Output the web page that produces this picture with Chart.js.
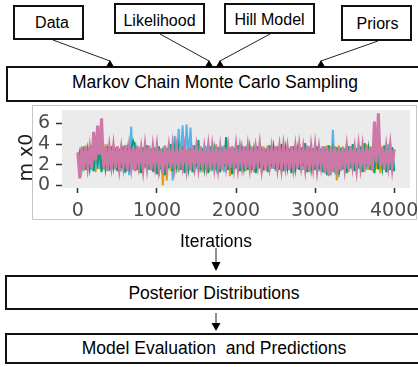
<!DOCTYPE html>
<html><head><meta charset="utf-8">
<script src="https://cdn.jsdelivr.net/npm/chart.js@4.4.1/dist/chart.umd.min.js"></script>
<style>
html,body{margin:0;padding:0;width:418px;height:367px;overflow:hidden;background:#fff;}
body{position:relative;font-family:"Liberation Sans",Arial,sans-serif;color:#000;}
.box{position:absolute;border:2px solid #111;box-sizing:border-box;background:#fff;}
.t{position:absolute;line-height:1;white-space:nowrap;text-align:center;width:300px;}
#plotFrame{position:absolute;left:32px;top:105px;width:385px;height:115px;border:1px solid #c6c6c6;box-sizing:border-box;}
#chartWrap{position:absolute;left:0;top:100px;width:418px;height:150px;}
svg{position:absolute;left:0;top:0;}
</style></head>
<body>
<div class="box" style="left:13px;top:5px;width:71px;height:35px;"></div>
<div class="box" style="left:114px;top:3px;width:91px;height:31px;"></div>
<div class="box" style="left:224px;top:3px;width:91px;height:31px;"></div>
<div class="box" style="left:341px;top:5px;width:71px;height:36px;"></div>
<div class="box" style="left:6px;top:66px;width:430px;height:36px;"></div>
<div class="box" style="left:5px;top:275px;width:430px;height:35px;"></div>
<div class="box" style="left:5px;top:333px;width:430px;height:31px;"></div>

<div class="t" style="left:-98px;top:14.8px;font-size:16px;">Data</div>
<div class="t" style="left:9.5px;top:13.2px;font-size:16px;">Likelihood</div>
<div class="t" style="left:119.5px;top:11.5px;font-size:16px;">Hill Model</div>
<div class="t" style="left:227.5px;top:15.5px;font-size:16px;">Priors</div>
<div class="t" style="left:65px;top:73.7px;font-size:17.5px;">Markov Chain&nbsp;Monte Carlo Sampling</div>
<div class="t" style="left:64px;top:285.2px;font-size:17.5px;">Posterior Distributions</div>
<div class="t" style="left:64px;top:339.7px;font-size:17.5px;">Model Evaluation&nbsp; and Predictions</div>

<svg width="418" height="367" viewBox="0 0 418 367">
 <g stroke="#222" stroke-width="1" fill="none">
  <line x1="53" y1="40" x2="110" y2="61"/>
  <line x1="160" y1="34" x2="209" y2="61"/>
  <line x1="270" y1="34" x2="220" y2="61"/>
  <line x1="378" y1="41" x2="321" y2="61"/>
  <line x1="216" y1="248" x2="216" y2="263"/>
  <line x1="216" y1="313" x2="216" y2="324"/>
 </g>
 <g fill="#000">
  <polygon points="106,67 114,67 110,60"/>
  <polygon points="205,67 213,67 209,60"/>
  <polygon points="216,67 224,67 220,60"/>
  <polygon points="317,67 325,67 321,60"/>
  <polygon points="211.5,262 220.5,262 216,271"/>
  <polygon points="211.5,323 220.5,323 216,331"/>
 </g>
</svg>

<div id="plotFrame"></div>
<div id="chartWrap"><canvas id="c" width="418" height="150"></canvas></div>

<script>
const iterStep = 25;
const xTicks = [0, 1000, 2000, 3000, 4000];
const yTicks = [0, 2, 4, 6];
const xTitle = 'Iterations';
const yTitle = 'm x0';

const chainPink = [
 3.2,0.7,3.6,1.6,3.7,1.9,3.5,1.7,5.2,2.4,5.8,3.0,6.5,1.8,3.8,1.5,3.6,2.0,3.7,1.7,
 3.8,1.8,3.5,2.0,3.9,1.6,3.6,1.9,3.7,1.4,3.8,2.1,3.5,1.7,3.7,1.9,3.8,1.5,3.6,2.0,
 3.7,1.8,3.5,1.2,3.8,2.0,3.6,1.7,3.7,1.9,3.5,1.6,3.8,2.1,3.6,1.8,3.7,1.5,3.9,2.0,
 3.6,1.9,3.8,1.7,3.5,2.0,3.7,1.6,3.6,1.9,3.8,1.8,3.5,1.5,3.7,2.0,3.6,1.7,3.8,1.9,
 3.7,1.8,3.5,2.0,3.8,1.7,3.6,1.9,3.7,1.6,3.5,2.1,3.8,1.8,3.6,1.5,3.7,2.0,3.5,1.7,
 3.8,1.9,3.6,1.8,3.7,2.0,3.5,1.6,3.8,1.9,3.6,1.7,3.7,2.0,3.5,1.8,3.8,1.5,3.6,1.9,
 3.7,1.7,3.5,2.0,3.8,1.2,3.7,1.0,3.6,1.3,3.8,1.1,3.5,1.5,3.7,1.8,3.6,1.6,3.8,2.0,
 3.5,1.7,3.7,1.9,3.6,1.6,3.8,1.8,3.7,1.5,6.2,2.2,7.0,1.9,3.7,1.6,3.6,2.0,3.8,1.8,
 3.5
];
const chainGreen = [
 2.6,
 3.2,2.0,3.7,1.5,3.4,1.8,3.9,1.4,3.6,2.2,3.5,1.3,3.7,1.7,3.3,1.5,3.8,1.9,3.6,1.4,
 3.5,1.7,3.8,1.3,3.4,1.9,3.6,4.3,3.7,1.5,3.4,1.2,3.7,1.8,3.9,1.6,3.5,1.4,3.6,1.1,
 3.8,1.6,3.5,1.0,3.6,1.7,4.0,1.4,3.5,1.9,3.6,1.5,3.8,1.2,3.4,1.7,3.6,1.3,3.9,1.8,
 4.4,1.5,3.6,1.7,3.4,1.2,3.8,1.6,3.5,1.9,3.7,1.3,3.6,1.8,4.7,1.5,3.5,1.1,3.6,1.7,
 3.9,1.4,3.5,1.8,3.7,1.5,3.6,1.9,3.4,1.2,3.8,1.7,3.6,1.5,3.5,1.3,3.9,1.8,3.6,1.6,
 3.7,1.5,4.0,1.4,3.5,1.8,3.6,1.2,3.8,1.7,3.4,1.5,3.7,1.9,4.1,1.3,3.5,1.7,3.6,1.5,
 3.8,1.6,3.5,1.3,3.6,1.0,3.9,1.5,3.4,1.8,3.7,1.1,3.6,1.6,3.5,1.2,3.8,1.7,4.0,1.4,
 3.6,1.7,3.8,1.3,4.1,1.8,3.5,1.5,3.7,1.2,4.2,1.6,3.5,1.8,3.9,1.3,3.6,1.5,3.7,1.4
];
const chainBlue = [
 2.4,
 3.3,1.7,3.8,1.5,3.6,1.8,3.7,1.4,3.5,1.6,3.7,1.5,3.6,1.7,3.8,1.4,3.6,1.6,3.7,1.5,
 3.6,1.4,3.7,1.2,3.6,1.0,5.7,1.5,4.2,1.6,3.7,1.4,3.6,1.7,3.8,1.5,3.6,1.3,3.7,1.6,
 3.6,1.5,3.7,1.4,3.6,1.6,3.8,0.5,4.8,2.0,5.5,2.5,5.8,1.5,5.9,2.8,5.6,1.4,3.7,1.6,
 3.7,1.3,3.6,1.5,3.8,1.6,3.7,1.4,3.6,1.5,3.7,1.6,3.8,1.3,3.6,1.5,3.7,1.4,3.6,1.6,
 3.7,1.5,3.6,1.4,3.8,1.6,3.7,1.5,3.6,1.3,3.7,1.6,3.8,1.4,3.6,1.5,3.7,1.6,3.6,1.4,
 3.8,1.5,3.6,1.6,3.7,1.4,3.6,1.5,3.8,1.3,3.7,1.6,3.6,1.5,3.7,1.4,3.8,1.6,3.6,1.5,
 3.7,1.4,3.6,1.6,3.8,1.2,3.7,1.0,5.4,1.3,3.6,0.8,3.7,1.5,3.6,1.4,3.8,1.6,3.7,1.5,
 3.6,1.6,3.7,1.4,3.8,1.5,3.6,1.6,3.7,1.4,3.6,1.5,3.8,1.6,3.7,1.3,4.0,1.5,3.7,1.4
];
const chainOrange = [
 3.0,1.6,3.8,1.4,3.9,1.7,3.7,1.5,3.8,1.3,3.9,1.6,3.8,1.5,4.0,1.4,3.7,1.7,3.9,1.5,
 3.8,1.3,3.9,1.6,3.7,1.4,4.0,1.7,3.8,1.5,3.9,1.2,3.7,1.6,3.8,1.4,3.9,1.5,3.7,1.3,
 3.8,0.9,3.6,0.0,3.9,0.5,3.7,1.4,3.8,1.6,3.9,1.3,3.7,1.5,4.0,1.4,3.8,1.6,3.9,1.2,
 3.7,1.5,3.8,1.3,3.9,1.6,3.7,1.4,3.8,1.5,4.0,1.2,3.7,1.6,3.9,1.4,3.8,0.9,3.7,1.5,
 3.9,1.3,3.8,1.6,3.7,1.4,4.0,1.5,3.8,1.3,3.9,1.6,3.7,1.2,3.8,1.5,3.9,1.4,3.7,1.6,
 3.8,1.4,4.0,1.3,3.7,1.6,3.9,1.5,3.8,1.2,3.7,1.6,4.0,1.4,3.8,1.5,3.9,1.3,3.7,1.6,
 3.9,1.4,3.8,1.5,3.7,1.2,3.9,0.9,3.8,1.3,3.7,0.5,3.9,1.4,3.8,1.6,4.0,1.3,3.7,1.5,
 3.8,1.4,3.9,1.6,3.7,1.3,4.0,1.5,3.8,1.4,3.9,1.6,3.7,1.2,3.8,1.5,3.9,1.4,3.7,1.6,
 2.0
];

const toPts = arr => arr.map((v, i) => ({ x: i * iterStep, y: v }));

const panelBg = {
  id: 'panelBg',
  beforeDatasetsDraw(chart) {
    const { ctx, chartArea: a } = chart;
    ctx.save();
    ctx.fillStyle = '#EBEBEB';
    ctx.fillRect(a.left, a.top, a.right - a.left, a.bottom - a.top);
    ctx.restore();
  }
};
const axisTitles = {
  id: 'axisTitles',
  afterDraw(chart) {
    const ctx = chart.ctx;
    ctx.save();
    ctx.fillStyle = '#000';
    ctx.textAlign = 'center';
    ctx.textBaseline = 'alphabetic';
    ctx.font = '17.5px "Liberation Sans", Arial, sans-serif';
    ctx.fillText(xTitle, 216, 147);
    ctx.translate(32, 57.5);
    ctx.rotate(-Math.PI / 2);
    ctx.fillStyle = '#1a1a1a';
    ctx.font = '19px "DejaVu Sans", sans-serif';
    ctx.fillText(yTitle, 0, 0);
    ctx.restore();
  }
};

const tickFont = { family: 'DejaVu Sans', size: 19 };

new Chart(document.getElementById('c'), {
  type: 'line',
  data: {
    datasets: [
      { label: 'chain 4', data: toPts(chainPink), borderColor: '#CC79A7', borderWidth: 3 },
      { label: 'chain 3', data: toPts(chainGreen), borderColor: '#009E73' },
      { label: 'chain 2', data: toPts(chainBlue), borderColor: '#56B4E9' },
      { label: 'chain 1', data: toPts(chainOrange), borderColor: '#E69F00' }
    ]
  },
  options: {
    responsive: false,
    animation: false,
    devicePixelRatio: 1,
    layout: { padding: { top: 10, right: 8, left: 0, bottom: 0 } },
    elements: { point: { radius: 0 }, line: { borderWidth: 2, tension: 0 } },
    plugins: { legend: { display: false }, tooltip: { enabled: false } },
    scales: {
      x: {
        type: 'linear', min: -200, max: 4200,
        afterBuildTicks: s => { s.ticks = xTicks.map(v => ({ value: v })); },
        afterFit: s => { s.height = 62; s.paddingLeft = 0; s.paddingRight = 0; },
        grid: { drawOnChartArea: false, drawTicks: true, tickLength: 5, tickColor: '#333', tickWidth: 1.5 },
        border: { display: false },
        ticks: { padding: 7, color: '#4d4d4d', font: tickFont, maxRotation: 0, autoSkip: false, callback: v => String(v) }
      },
      y: {
        type: 'linear', min: -0.24, max: 7.31,
        afterBuildTicks: s => { s.ticks = yTicks.map(v => ({ value: v })); },
        afterFit: s => { s.width = 62; s.paddingTop = 0; s.paddingBottom = 0; },
        grid: { drawOnChartArea: false, drawTicks: true, tickLength: 6, tickColor: '#333', tickWidth: 1.5 },
        border: { display: false },
        ticks: { padding: 6, color: '#4d4d4d', font: tickFont, autoSkip: false, callback: v => String(v) }
      }
    }
  },
  plugins: [panelBg, axisTitles]
});
</script>
</body></html>
